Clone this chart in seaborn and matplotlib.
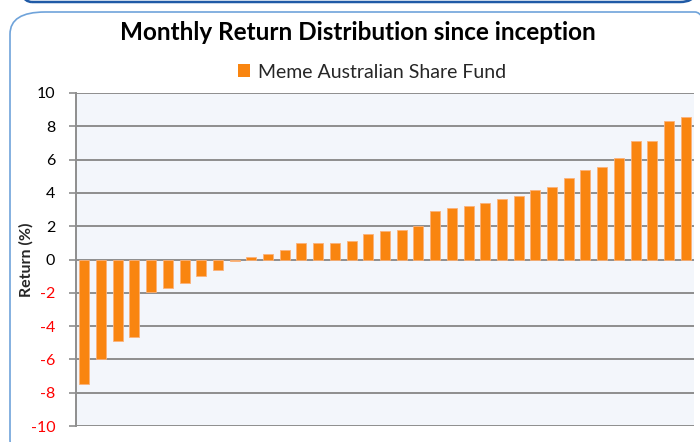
import matplotlib
matplotlib.use("Agg")
import matplotlib.pyplot as plt
import seaborn as sns
import pandas as pd
from matplotlib.patches import FancyBboxPatch, Patch

months = [f"M{i+1}" for i in range(37)]
returns = [-7.5, -6.0, -4.9, -4.65, -1.95, -1.7, -1.4, -1.0, -0.65, -0.1,
           0.15, 0.35, 0.6, 1.0, 1.0, 1.0, 1.1, 1.56, 1.7, 1.8, 2.04, 2.9,
           3.08, 3.24, 3.38, 3.64, 3.8, 4.2, 4.36, 4.92, 5.4, 5.54, 6.12,
           7.14, 7.14, 8.34, 8.58]
series_name = "Meme Australian Share Fund"
title = "Monthly Return Distribution since inception"
y_ticks = [-10, -8, -6, -4, -2, 0, 2, 4, 6, 8, 10]

sns.set_theme(style="white")
plt.rcParams['font.family'] = ['Lato', 'DejaVu Sans']

df = pd.DataFrame({"month": months, "ret": returns})

fig = plt.figure(figsize=(7, 4.42), dpi=100)
W, H = 700, 442

# outer decorations
fig.patches.append(FancyBboxPatch((10 / W, -20 / H), 720 / W, (442 - 12 + 20) / H,
                                  boxstyle="round,pad=0,rounding_size=0.05",
                                  transform=fig.transFigure, fill=False,
                                  edgecolor="#6FA3DA", linewidth=1.2, zorder=0))
fig.patches.append(FancyBboxPatch((18 / W, 1 - 2 / H), 676 / W, 40 / H,
                                  boxstyle="round,pad=0,rounding_size=0.02",
                                  transform=fig.transFigure, fill=False,
                                  edgecolor="#1F5AA6", linewidth=1.8, zorder=0))

ax = fig.add_axes([76 / W, 1 - 426 / H, (694 - 76) / W, (426 - 93) / H])
ax.set_facecolor("#F3F6FB")

sns.barplot(data=df, x="month", y="ret", order=months, color="#F98510",
            width=0.6, edgecolor="#FBB27A", linewidth=0.6, saturation=1,
            ax=ax, zorder=3)

ax.set_ylim(-10, 10)
ax.set_xlim(-0.5, len(months) - 0.5)
ax.set_yticks(y_ticks)
ax.set_yticklabels([str(t) for t in y_ticks])
for lbl, t in zip(ax.get_yticklabels(), y_ticks):
    lbl.set_color("#FF0000" if t < 0 else "black")
    lbl.set_fontsize(11.5)
ax.set_xticks([])
ax.set_xlabel("")
ax.set_ylabel("Return (%)", fontsize=11.5, fontweight="bold")
ax.yaxis.set_label_coords(-0.068, 0.5)

for t in y_ticks:
    ax.axhline(t, color="#8E8E8E", linewidth=1.4, zorder=1)

for s in ["top", "right", "bottom"]:
    ax.spines[s].set_visible(False)
ax.spines["left"].set_color("#8E8E8E")
ax.spines["left"].set_linewidth(1.4)
ax.tick_params(axis="y", which="major", length=5, width=1.2, color="#8E8E8E",
               direction="out", pad=10, left=True)

fig.text(358 / W, 1 - 33 / H, title, ha="center", va="center",
         fontsize=17.5, fontweight="bold", color="black")

leg = fig.legend(handles=[Patch(facecolor="#F98510", edgecolor="none", label=series_name)],
                 loc="center", bbox_to_anchor=(372 / W, 1 - 72 / H), frameon=False,
                 fontsize=14, handlelength=0.6, handleheight=0.6, handletextpad=0.4)

fig.savefig("out.png", dpi=100)
